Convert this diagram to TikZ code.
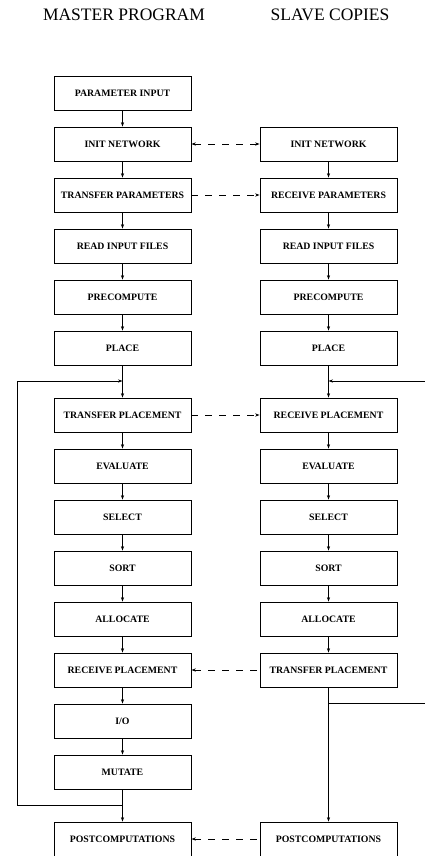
\documentclass[tikz,border=0pt]{standalone}
\usepackage{fontspec}
\setmainfont{Liberation Serif}
\usetikzlibrary{arrows.meta}
\begin{document}
\begin{tikzpicture}[x=1pt,y=-1pt,
  >={Stealth[length=4.5pt,width=3.2pt]},
  box/.style={draw, line width=0.8pt, minimum width=137pt, minimum height=34pt, inner sep=0pt, font=\fontsize{9.8}{12}\selectfont\bfseries},
  flow/.style={line width=0.7pt, ->},
  plain/.style={line width=0.7pt},
  link/.style={line width=0.8pt, dash pattern=on 7pt off 7pt},
  title/.style={font=\fontsize{17.5}{20}\selectfont, inner sep=0pt}]
\useasboundingbox (0,0) rectangle (425,856);
\node[title] (tm) at (124,15) {MASTER PROGRAM};
\node[title] (ts) at (330,15) {SLAVE COPIES};
% master column
\node[box] (m0) at (122.5,93) {PARAMETER INPUT};
\node[box] (m1) at (122.5,144) {INIT NETWORK};
\node[box] (m2) at (122.5,195) {TRANSFER PARAMETERS};
\node[box] (m3) at (122.5,246) {READ INPUT FILES};
\node[box] (m4) at (122.5,297) {PRECOMPUTE};
\node[box] (m5) at (122.5,348) {PLACE};
\node[box] (m6) at (122.5,415) {TRANSFER PLACEMENT};
\node[box] (m7) at (122.5,466) {EVALUATE};
\node[box] (m8) at (122.5,517) {SELECT};
\node[box] (m9) at (122.5,568) {SORT};
\node[box] (m10) at (122.5,619) {ALLOCATE};
\node[box] (m11) at (122.5,670) {RECEIVE PLACEMENT};
\node[box] (m12) at (122.5,721) {I/O};
\node[box] (m13) at (122.5,772) {MUTATE};
\node[box] (m14) at (122.5,839) {POSTCOMPUTATIONS};
% slave column
\node[box] (s1) at (328.5,144) {INIT NETWORK};
\node[box] (s2) at (328.5,195) {RECEIVE PARAMETERS};
\node[box] (s3) at (328.5,246) {READ INPUT FILES};
\node[box] (s4) at (328.5,297) {PRECOMPUTE};
\node[box] (s5) at (328.5,348) {PLACE};
\node[box] (s6) at (328.5,415) {RECEIVE PLACEMENT};
\node[box] (s7) at (328.5,466) {EVALUATE};
\node[box] (s8) at (328.5,517) {SELECT};
\node[box] (s9) at (328.5,568) {SORT};
\node[box] (s10) at (328.5,619) {ALLOCATE};
\node[box] (s11) at (328.5,670) {TRANSFER PLACEMENT};
\node[box] (s14) at (328.5,839) {POSTCOMPUTATIONS};
% master flow
\foreach \a/\b in {m0/m1,m1/m2,m2/m3,m3/m4,m4/m5,m5/m6,m6/m7,m7/m8,m8/m9,m9/m10,m10/m11,m11/m12,m12/m13,m13/m14}
  \draw[flow] (\a.south) -- (\b.north);
% slave flow
\foreach \a/\b in {s1/s2,s2/s3,s3/s4,s4/s5,s5/s6,s6/s7,s7/s8,s8/s9,s9/s10,s10/s11,s11/s14}
  \draw[flow] (\a.south) -- (\b.north);
% master loop
\coordinate (mj) at (122.5,381);
\coordinate (mb) at (122.5,805);
\coordinate (ml1) at (17,805);
\coordinate (ml2) at (17,381);
\draw[plain] (mb) -- (ml1) -- (ml2);
\draw[flow] (ml2) -- (mj);
% slave loop
\coordinate (sj) at (328.5,381);
\coordinate (sr) at (425,381);
\coordinate (sb) at (328.5,703);
\coordinate (sbr) at (425,703);
\draw[flow] (sr) -- (sj);
\draw[plain] (sb) -- (sbr);
% dashed links
\draw[link, <->] (m1.east) -- (s1.west);
\draw[link, ->] (m2.east) -- (s2.west);
\draw[link, ->] (m6.east) -- (s6.west);
\draw[link, <-] (m11.east) -- (s11.west);
\draw[link, <-] (m14.east) -- (s14.west);
\end{tikzpicture}
\end{document}
